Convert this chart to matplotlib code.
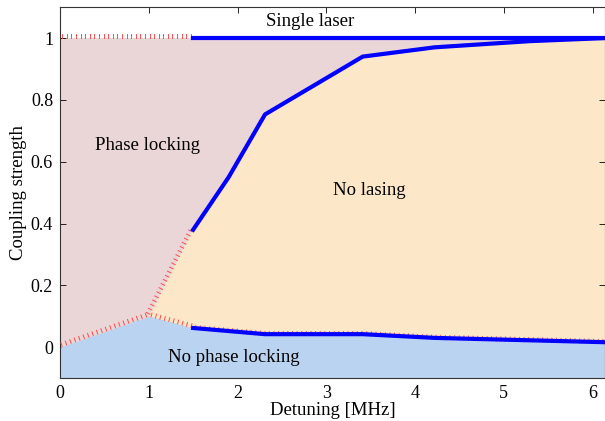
import numpy as np
import matplotlib
matplotlib.use('Agg')
import matplotlib.pyplot as plt
import matplotlib.patheffects as pe

plt.rcParams['font.family'] = ['Liberation Serif', 'DejaVu Serif']
plt.rcParams['mathtext.fontset'] = 'stix'

# boundary data
x_lower = np.array([1.5, 2.31, 3.41, 4.22, 6.14])
y_lower = np.array([0.062, 0.042, 0.042, 0.03, 0.016])
x_upper = np.array([1.5, 1.9, 2.31, 3.41, 4.22, 5.29, 6.14])
y_upper = np.array([0.38, 0.55, 0.753, 0.94, 0.97, 0.99, 1.0])
x_single = np.array([1.5, 6.14])
y_single = np.array([1.0, 1.0])

# dotted (extrapolated) boundaries
x_peak = np.array([0, 1.0])
y_peak = np.array([0, 0.1])
x_top_dot = np.array([0, 1.5])
y_top_dot = np.array([1.0, 1.0])

xmax = 6.14
ymin, ymax = -0.1, 1.1

c_pink = '#ebd6d7'
c_beige = '#fce8c9'
c_blue = '#b9d3f1'
c_line = '#0000ff'
c_dot = '#ff4a4a'

fig = plt.figure(figsize=(6.05, 4.21), dpi=100)
ax = fig.add_axes([0.0992, 0.102, 0.9008, 0.881])

# phase locking background
ax.fill_between([0, xmax], [ymin, ymin], [1, 1], color=c_pink, lw=0, zorder=0)

# no lasing region
lx = np.concatenate([[x_peak[1]], x_lower])
ly = np.concatenate([[y_peak[1]], y_lower])
ux = np.concatenate([[x_peak[1]], x_upper])
uy = np.concatenate([[y_peak[1]], y_upper])
ax.fill(np.concatenate([lx, ux[::-1]]), np.concatenate([ly, uy[::-1]]),
        color=c_beige, lw=0, zorder=1)

# no phase locking region
bx = np.concatenate([x_peak, x_lower])
by = np.concatenate([y_peak, y_lower])
ax.fill_between(bx, ymin, by, color=c_blue, lw=0, zorder=2)

ticked = [pe.TickedStroke(spacing=3.3, angle=90, length=0.85)]
dot_kw = dict(color=c_dot, lw=0.7, path_effects=ticked, zorder=3)
ax.plot(x_peak, y_peak, **dot_kw)
ax.plot([x_peak[1], x_lower[0]], [y_peak[1], y_lower[0]], **dot_kw)
ax.plot([x_peak[1], x_upper[0]], [y_peak[1], y_upper[0]], **dot_kw)
ax.plot(x_lower, y_lower - 0.004, **dot_kw)
ax.plot(x_top_dot, y_top_dot, **dot_kw)

ax.plot(x_lower, y_lower, color=c_line, lw=3, zorder=4)
ax.plot(x_upper, y_upper, color=c_line, lw=3, zorder=4)
ax.plot(x_single, y_single, color=c_line, lw=3, zorder=4)

ax.text(2.82, 1.052, 'Single laser', ha='center', va='center', fontsize=13.5)
ax.text(0.98, 0.653, 'Phase locking', ha='center', va='center', fontsize=13.5)
ax.text(3.49, 0.506, 'No lasing', ha='center', va='center', fontsize=13.5)
ax.text(1.96, -0.035, 'No phase locking', ha='center', va='center', fontsize=13.5)

ax.set_xlim(0, xmax)
ax.set_ylim(ymin, ymax)
ax.set_xticks(np.arange(0, 7))
ax.set_yticks([0, 0.2, 0.4, 0.6, 0.8, 1.0])
ax.set_yticklabels(['0', '0.2', '0.4', '0.6', '0.8', '1'])
ax.tick_params(direction='in', top=True, right=True, labelsize=13, length=4, width=0.6, pad=5)
for s in ax.spines.values():
    s.set_linewidth(0.8)
    s.set_color('#333333')
ax.set_xlabel('Detuning [MHz]', fontsize=13.5, labelpad=0)
ax.set_ylabel('Coupling strength', fontsize=13.5, labelpad=3)

fig.savefig('out.png', dpi=100)
